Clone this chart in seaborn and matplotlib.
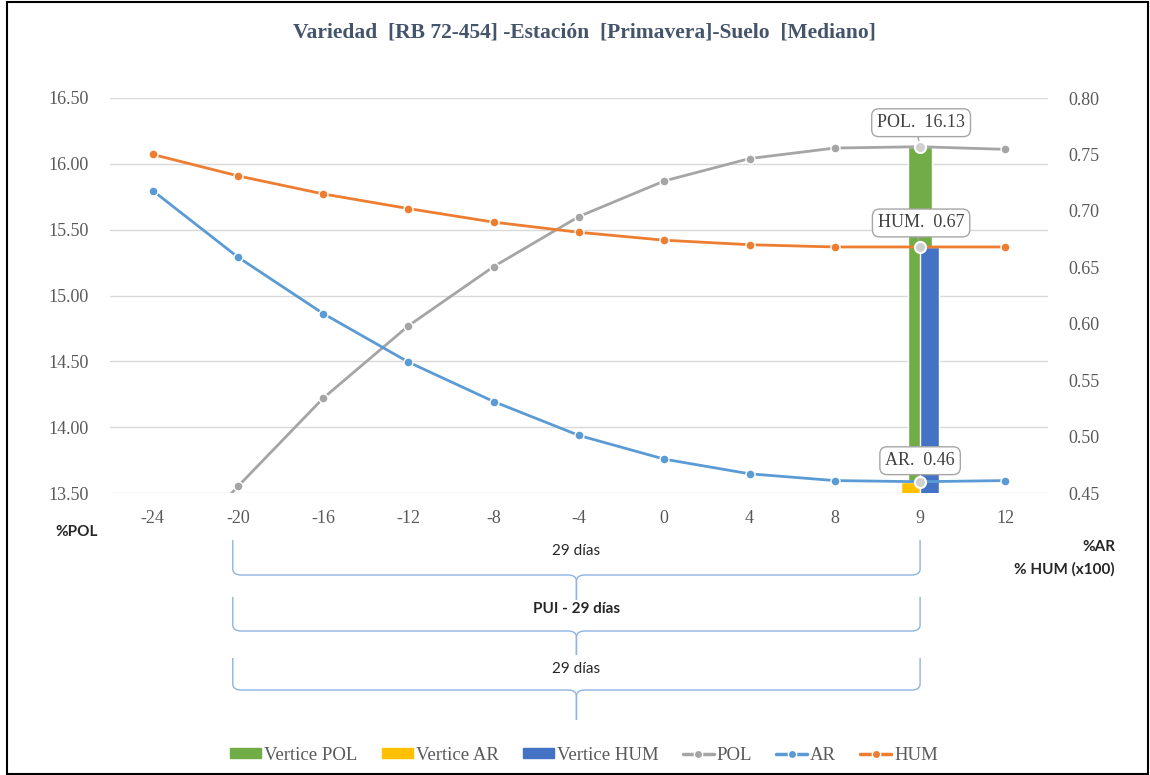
import numpy as np
import matplotlib
matplotlib.use("Agg")
import matplotlib.pyplot as plt
import matplotlib.transforms as mtransforms
from matplotlib.path import Path
from matplotlib.patches import PathPatch, Patch, Rectangle
from matplotlib.lines import Line2D
import seaborn as sns

# datos
days = ["-24", "-20", "-16", "-12", "-8", "-4", "0", "4", "8", "9", "12"]
pol = [12.85, 13.55, 14.22, 14.77, 15.22, 15.60, 15.87, 16.04, 16.12, 16.13, 16.11]
ar = [0.718, 0.659, 0.609, 0.566, 0.531, 0.501, 0.480, 0.467, 0.461, 0.460, 0.461]
hum = [0.750, 0.731, 0.715, 0.702, 0.690, 0.681, 0.674, 0.670, 0.668, 0.668, 0.668]

vertex_day = "9"
vertex_pol = 16.13
vertex_ar = 0.46
vertex_hum = 0.668

pui_start = "-20"
pui_end = "9"
brace_labels = ["29 días", "PUI - 29 días", "29 días"]

title = "Variedad  [RB 72-454] -Estación  [Primavera]-Suelo  [Mediano]"

c_green = "#70AD47"
c_yellow = "#FFC000"
c_blue = "#4472C4"
c_pol = "#A5A5A5"
c_ar = "#5B9BD5"
c_hum = "#ED7D31"
c_txt = "#595959"

sns.set_theme(style="white")
plt.rcParams["font.family"] = ["Liberation Serif", "DejaVu Serif"]

fig = plt.figure(figsize=(11.5, 7.75), dpi=100)
ax = fig.add_axes([110 / 1150, 1 - 493 / 775, 938 / 1150, 395 / 775])
ax2 = ax.twinx()

x = np.arange(len(days))
xv = days.index(vertex_day)

# barras del vertice
ax.bar(xv, vertex_pol, width=0.29, color=c_green, zorder=1)
ax2.bar(xv - 0.11, vertex_ar, width=0.22, color=c_yellow, zorder=1)
ax2.bar(xv + 0.11, vertex_hum, width=0.22, color=c_blue, zorder=1)

# lineas
mk = dict(marker="o", markersize=6.5, markeredgecolor="white", markeredgewidth=1, linewidth=2)
sns.lineplot(x=x, y=pol, ax=ax, color=c_pol, zorder=3, **mk)
sns.lineplot(x=x, y=ar, ax=ax2, color=c_ar, zorder=3, **mk)
sns.lineplot(x=x, y=hum, ax=ax2, color=c_hum, zorder=3, **mk)

ax.set_xlim(-0.5, len(days) - 0.5)
ax.set_ylim(13.5, 16.5)
ax2.set_ylim(0.45, 0.80)
ax.set_yticks(np.arange(13.5, 16.51, 0.5))
ax2.set_yticks(np.arange(0.45, 0.801, 0.05))
ax.set_yticklabels([f"{v:.2f}" for v in np.arange(13.5, 16.51, 0.5)])
ax2.set_yticklabels([f"{v:.2f}" for v in np.arange(0.45, 0.801, 0.05)])
ax.set_xticks(x)
ax.set_xticklabels(days)
for a in (ax, ax2):
    for s in a.spines.values():
        s.set_visible(False)
    a.tick_params(length=0, labelsize=13, labelcolor=c_txt)
ax.tick_params(axis="y", pad=15.5)
ax2.tick_params(axis="y", pad=15)
ax.tick_params(axis="x", pad=12)
ax.grid(axis="y", color="#D9D9D9", linewidth=1)
ax.set_axisbelow(True)
ax.patch.set_visible(False)

# etiquetas del vertice
box = dict(boxstyle="round,pad=0.3,rounding_size=0.4", fc="white", ec="#A6A6A6", lw=1)
arrow = dict(arrowstyle="-", color="#A6A6A6", lw=1, shrinkA=0, shrinkB=3, relpos=(0.45, 0))
ax.annotate(f"POL.  {vertex_pol:.2f}", (xv, vertex_pol), xytext=(1, 24), textcoords="offset pixels",
            ha="center", va="center", fontsize=13, color="#404040", bbox=box, arrowprops=arrow, zorder=6)
ax2.annotate(f"HUM.  {vertex_hum:.2f}", (xv, vertex_hum), xytext=(1, 24), textcoords="offset pixels",
             ha="center", va="center", fontsize=13, color="#404040", bbox=box, arrowprops=arrow, zorder=6)
ax2.annotate(f"AR.  {vertex_ar:.2f}", (xv, vertex_ar), xytext=(0, 21), textcoords="offset pixels",
             ha="center", va="center", fontsize=13, color="#404040", bbox=box, arrowprops=arrow, zorder=6)
for a, v in [(ax, vertex_pol), (ax2, vertex_hum), (ax2, vertex_ar)]:
    a.plot([xv], [v], marker="o", markersize=8, markerfacecolor="#D0D0D0", markeredgecolor="white",
           markeredgewidth=1.5, zorder=7)

fig.text(584 / 1150, 1 - 32 / 775, title, ha="center", va="center", fontsize=15.5, fontweight="bold",
         color="#44546A")

# titulos de ejes
sans = ["Lato", "DejaVu Sans"]
fig.text(55 / 1150, 1 - 532 / 775, "%POL", ha="left", va="center", fontsize=11, fontweight="bold",
         family=sans, color="#262626")
fig.text(1115 / 1150, 1 - 547 / 775, "%AR", ha="right", va="center", fontsize=11, fontweight="bold",
         family=sans, color="#262626")
fig.text(1115 / 1150, 1 - 569 / 775, "% HUM (x100)", ha="right", va="center", fontsize=11, fontweight="bold",
         family=sans, color="#262626")

# llaves del periodo
trans = mtransforms.blended_transform_factory(ax.transData, fig.transFigure)
x0 = days.index(pui_start) - 0.06
x1 = days.index(pui_end)
xm = (x0 + x1) / 2
dx = 0.1
dy = 6 / 775
levels = [(540, 575, 600, 551), (597, 631, 655, 609), (658, 690, 720, 669)]
for (yt, yh, ytip, ytxt), lab in zip(levels, brace_labels):
    yt, yh, ytip, ytxt = [1 - v / 775 for v in (yt, yh, ytip, ytxt)]
    for xs, sg in [(x0, 1), (x1, -1)]:
        verts = [(xs, yt), (xs, yh + dy), (xs, yh), (xs + sg * dx, yh),
                 (xm - sg * dx, yh), (xm, yh), (xm, yh - dy), (xm, ytip)]
        codes = [Path.MOVETO, Path.LINETO, Path.CURVE3, Path.CURVE3,
                 Path.LINETO, Path.CURVE3, Path.CURVE3, Path.LINETO]
        fig.patches.append(PathPatch(Path(verts, codes), transform=trans, fill=False,
                                     edgecolor="#8DB4E2", lw=1))
    fig.text(xm, ytxt, lab, transform=trans, ha="center", va="center", fontsize=11, family=sans,
             color="#262626", fontweight="bold" if lab.startswith("PUI") else "normal")

# leyenda
handles = [
    Patch(color=c_green, label="Vertice POL"),
    Patch(color=c_yellow, label="Vertice AR"),
    Patch(color=c_blue, label="Vertice HUM"),
    Line2D([], [], color=c_pol, lw=2.5, marker="o", markersize=6, markeredgecolor="white", label="POL"),
    Line2D([], [], color=c_ar, lw=2.5, marker="o", markersize=6, markeredgecolor="white", label="AR"),
    Line2D([], [], color=c_hum, lw=2.5, marker="o", markersize=6, markeredgecolor="white", label="HUM"),
]
leg = fig.legend(handles=handles, loc="center", bbox_to_anchor=(0.508, 1 - 755 / 775), ncol=6,
                 frameon=False, fontsize=13.5, handlelength=1.65, handleheight=0.5, handletextpad=0.15,
                 columnspacing=1.3)
for t in leg.get_texts():
    t.set_color(c_txt)

fig.patches.append(Rectangle((7 / 1150, 0.001), 1 - 9 / 1150, 0.996, transform=fig.transFigure,
                             fill=False, edgecolor="black", lw=1.5))

fig.savefig("out.png", dpi=100)
